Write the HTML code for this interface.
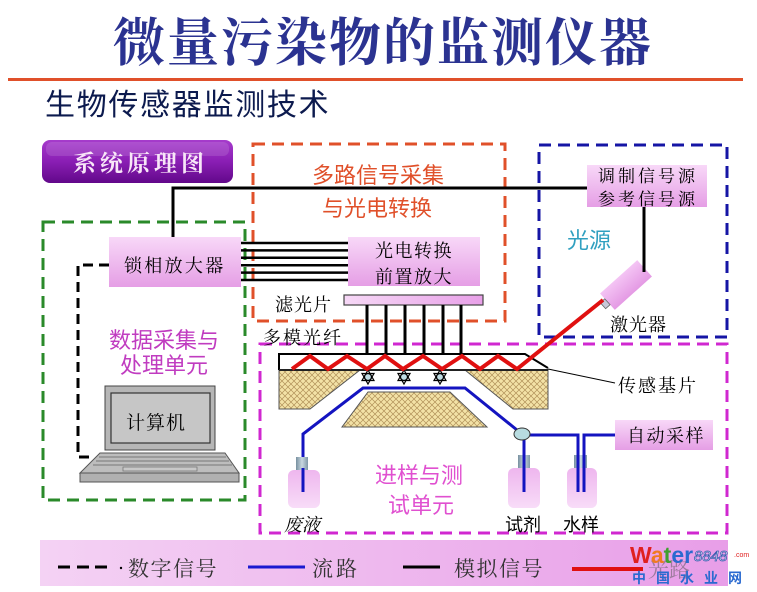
<!DOCTYPE html>
<html><head><meta charset="utf-8"><style>
html,body{margin:0;padding:0;background:#fff;}
svg{display:block;}
.se{font-family:"Liberation Serif","Noto Serif CJK SC",serif;}
.sa{font-family:"Liberation Sans","Noto Sans CJK SC",sans-serif;}
</style></head><body>
<svg width="757" height="592" viewBox="0 0 757 592" xmlns="http://www.w3.org/2000/svg">
<defs>
<linearGradient id="pk" x1="0" y1="0" x2="0" y2="1"><stop offset="0" stop-color="#f8d8f8"/><stop offset="1" stop-color="#e59ee5"/></linearGradient>
<linearGradient id="pkh" x1="0" y1="0" x2="1" y2="0"><stop offset="0" stop-color="#f6d8f6"/><stop offset="1" stop-color="#e8a0e8"/></linearGradient>
<linearGradient id="btn" x1="0" y1="0" x2="0" y2="1"><stop offset="0" stop-color="#a63ccc"/><stop offset="0.5" stop-color="#8a1eb4"/><stop offset="1" stop-color="#62088a"/></linearGradient>
<linearGradient id="bot" x1="0" y1="0" x2="0" y2="1"><stop offset="0" stop-color="#eeb6ee"/><stop offset="1" stop-color="#f8dcf8"/></linearGradient>
<linearGradient id="cap" x1="0" y1="0" x2="1" y2="0"><stop offset="0" stop-color="#7890a0"/><stop offset="0.5" stop-color="#c8d8e0"/><stop offset="1" stop-color="#8098a8"/></linearGradient>
<linearGradient id="leg" x1="0" y1="0" x2="1" y2="0"><stop offset="0" stop-color="#f4d2f4"/><stop offset="1" stop-color="#e89ee8"/></linearGradient>
<linearGradient id="las" x1="0" y1="0" x2="0" y2="1"><stop offset="0" stop-color="#f4c4f4"/><stop offset="1" stop-color="#e49ae4"/></linearGradient>
<pattern id="hat" width="6" height="6" patternUnits="userSpaceOnUse">
<rect width="6" height="6" fill="#f3e2a6"/>
<path d="M0,3 L3,0 M3,6 L6,3 M0,3 L3,6 M3,0 L6,3" stroke="#b09058" stroke-width="0.7" fill="none"/>
</pattern>
</defs>

<!-- Title -->
<text x="113" y="61" class="se" font-size="52" font-weight="bold" fill="#2b3391" textLength="538" lengthAdjust="spacing">微量污染物的监测仪器</text>
<rect x="8" y="78" width="735" height="3" fill="#e0502a"/>
<text x="45" y="115" class="sa" font-size="30" fill="#0c1a4e" letter-spacing="1.7">生物传感器监测技术</text>

<!-- button -->
<rect x="42" y="140" width="191" height="43" rx="8" fill="url(#btn)"/>
<rect x="46" y="142" width="183" height="14" rx="6" fill="#ffffff" opacity="0.12"/>
<text x="73" y="171" class="se" font-size="23" font-weight="bold" fill="#f8e6f8" letter-spacing="4">系统原理图</text>

<!-- dashed boxes -->
<rect x="43" y="222" width="202" height="278" fill="none" stroke="#2a8a2a" stroke-width="3" stroke-dasharray="12 7"/>
<rect x="253" y="144" width="252" height="177" fill="none" stroke="#e0502a" stroke-width="3" stroke-dasharray="12 7"/>
<rect x="539" y="145" width="188" height="192" fill="none" stroke="#1515a5" stroke-width="3" stroke-dasharray="12 7"/>
<rect x="260" y="344" width="467" height="189" fill="none" stroke="#d028d0" stroke-width="3" stroke-dasharray="12 7"/>

<!-- black signal lines -->
<path d="M173,238 L173,188 L587,188" fill="none" stroke="#000" stroke-width="3"/>
<g stroke="#000" stroke-width="2.5">
<line x1="241" y1="243" x2="348" y2="243"/>
<line x1="241" y1="250.4" x2="348" y2="250.4"/>
<line x1="241" y1="257.8" x2="348" y2="257.8"/>
<line x1="241" y1="265.2" x2="348" y2="265.2"/>
<line x1="241" y1="272.6" x2="348" y2="272.6"/>
<line x1="241" y1="280" x2="348" y2="280"/>
</g>
<path d="M109,265 L78,265 L78,457 L90,457" fill="none" stroke="#000" stroke-width="3" stroke-dasharray="10 6"/>

<!-- orange box title -->
<text x="312" y="183" class="sa" font-size="22" fill="#e0502a">多路信号采集</text>
<text x="322" y="216" class="sa" font-size="22" fill="#e0502a">与光电转换</text>

<!-- lock-in -->
<rect x="109" y="237" width="132" height="50" fill="url(#pk)"/>
<text x="124" y="272" class="se" font-size="18" fill="#000" letter-spacing="2.3">锁相放大器</text>

<!-- photoelectric -->
<rect x="348" y="237" width="132" height="49" fill="url(#pk)"/>
<text x="375" y="257" class="se" font-size="18" fill="#000" letter-spacing="1.5">光电转换</text>
<text x="375" y="283" class="se" font-size="18" fill="#000" letter-spacing="1.5">前置放大</text>

<!-- filter -->
<rect x="344" y="295" width="139" height="10" fill="url(#pkh)" stroke="#444" stroke-width="1.2"/>
<text x="275" y="311" class="se" font-size="18" fill="#000" letter-spacing="1">滤光片</text>
<text x="263" y="344" class="se" font-size="18" fill="#000" letter-spacing="2">多模光纤</text>
<g stroke="#000" stroke-width="3">
<line x1="367" y1="305" x2="367" y2="355"/>
<line x1="386" y1="305" x2="386" y2="355"/>
<line x1="405" y1="305" x2="405" y2="355"/>
<line x1="424" y1="305" x2="424" y2="355"/>
<line x1="443" y1="305" x2="443" y2="355"/>
<line x1="461" y1="305" x2="461" y2="355"/>
</g>

<!-- light source box -->
<rect x="587" y="165" width="120" height="42" fill="url(#pk)"/>
<text x="598" y="182" class="se" font-size="17" fill="#000" letter-spacing="3">调制信号源</text>
<text x="598" y="205" class="se" font-size="17" fill="#000" letter-spacing="3">参考信号源</text>
<text x="567" y="248" class="sa" font-size="22" fill="#30a0c0">光源</text>
<text x="610" y="331" class="se" font-size="18" fill="#000" letter-spacing="1">激光器</text>

<!-- laser -->
<g transform="translate(626,285) rotate(-42)">
<rect x="-25" y="-11" width="50" height="22" fill="url(#las)"/>
<rect x="-31" y="-4" width="6" height="8" fill="#c8c8d8" stroke="#666" stroke-width="0.8"/>
</g>
<line x1="644" y1="207" x2="644" y2="272" stroke="#000" stroke-width="3"/>

<!-- sensor substrate -->
<polygon points="279,370 360,370 310,409 279,409" fill="url(#hat)" stroke="#555" stroke-width="1"/>
<polygon points="465,370 548,370 548,409 513,409" fill="url(#hat)" stroke="#555" stroke-width="1"/>
<polygon points="368,392 450,392 487,427 342,427" fill="url(#hat)" stroke="#555" stroke-width="1"/>
<path d="M279,370 L279,354 L525,354 L548,368" fill="none" stroke="#000" stroke-width="2"/>
<line x1="279" y1="370" x2="548" y2="370" stroke="#222" stroke-width="2"/>
<line x1="548" y1="369" x2="615" y2="383" stroke="#000" stroke-width="1"/>
<text x="618" y="392" class="se" font-size="18" fill="#000" letter-spacing="2">传感基片</text>

<!-- detectors -->
<g stroke="#000" stroke-width="1.2" fill="none">
<g transform="translate(368,377)"><polygon points="0,-7 6,3.5 -6,3.5"/><polygon points="0,7 6,-3.5 -6,-3.5"/><circle r="3.5" fill="#c0dde4"/></g>
<g transform="translate(404,377)"><polygon points="0,-7 6,3.5 -6,3.5"/><polygon points="0,7 6,-3.5 -6,-3.5"/><circle r="3.5" fill="#c0dde4"/></g>
<g transform="translate(440,377)"><polygon points="0,-7 6,3.5 -6,3.5"/><polygon points="0,7 6,-3.5 -6,-3.5"/><circle r="3.5" fill="#c0dde4"/></g>
</g>

<!-- red zigzag -->
<polyline points="292,369 310,356 328,369 347,356 367,369 385,356 403,369 423,356 442,369 462,356 480,369 498,356 517,369 603,300" fill="none" stroke="#e01010" stroke-width="4" stroke-linejoin="miter"/>

<!-- flow lines -->
<g fill="none" stroke="#1414c0" stroke-width="3">
<polyline points="303,492 303,434 363,388 465,388 517,430"/>
<line x1="524" y1="440" x2="524" y2="492"/>
<polyline points="530,435 578,435 578,492"/>
<polyline points="615,435 584,435 584,492"/>
</g>
<ellipse cx="522" cy="434" rx="8" ry="6" fill="#b8dce0" stroke="#333" stroke-width="1"/>

<!-- bottles -->
<rect x="296" y="457" width="12" height="13" fill="url(#cap)"/>
<rect x="288" y="470" width="32" height="38" rx="6" fill="url(#bot)"/>
<rect x="518" y="455" width="12" height="13" fill="url(#cap)"/>
<rect x="508" y="468" width="32" height="40" rx="6" fill="url(#bot)"/>
<rect x="574" y="455" width="13" height="13" fill="url(#cap)"/>
<rect x="567" y="468" width="30" height="40" rx="6" fill="url(#bot)"/>
<g stroke="#1414c0" stroke-width="3">
<line x1="303" y1="468" x2="303" y2="492"/>
<line x1="524" y1="455" x2="524" y2="492"/>
<line x1="578" y1="455" x2="578" y2="492"/>
<line x1="584" y1="455" x2="584" y2="492"/>
</g>
<text x="284" y="531" class="se" font-size="18" font-style="italic" fill="#000">废液</text>
<text x="505" y="531" class="sa" font-size="18" fill="#000">试剂</text>
<text x="563" y="531" class="sa" font-size="18" fill="#000">水样</text>

<rect x="615" y="420" width="98" height="30" fill="url(#pk)"/>
<text x="627" y="442" class="se" font-size="18" fill="#000" letter-spacing="1.5">自动采样</text>

<text x="375" y="483" class="sa" font-size="22" fill="#e050d0">进样与测</text>
<text x="388" y="513" class="sa" font-size="22" fill="#e050d0">试单元</text>

<!-- data unit -->
<text x="109" y="348" class="sa" font-size="22" fill="#c03cc0">数据采集与</text>
<text x="120" y="373" class="sa" font-size="22" fill="#c03cc0">处理单元</text>

<!-- laptop -->
<rect x="105" y="386" width="110" height="64" fill="#b6b6b6" stroke="#444" stroke-width="1"/>
<rect x="111" y="393" width="99" height="50" fill="#c6c6c6" stroke="#333" stroke-width="1.2"/>
<text x="126" y="429" class="se" font-size="19" fill="#000" letter-spacing="1">计算机</text>
<polygon points="100,453 225,453 239,473 80,473" fill="#bdbdbd" stroke="#555" stroke-width="1"/>
<g stroke="#777" stroke-width="1">
<line x1="99" y1="457" x2="226" y2="457"/>
<line x1="96" y1="461" x2="229" y2="461"/>
<line x1="93" y1="465" x2="232" y2="465"/>
</g>
<rect x="123" y="467" width="74" height="4" fill="#c8c8c8" stroke="#777" stroke-width="0.8"/>
<rect x="80" y="473" width="159" height="9" fill="#b0b0b0" stroke="#555" stroke-width="1"/>

<!-- legend -->
<rect x="40" y="540" width="688" height="46" fill="url(#leg)"/>
<g stroke="#000" stroke-width="3">
<line x1="58" y1="567" x2="70" y2="567"/>
<line x1="77" y1="567" x2="89" y2="567"/>
<line x1="95" y1="567" x2="107" y2="567"/>
</g>
<circle cx="121" cy="568" r="1.2" fill="#000"/>
<text x="128" y="576" class="se" font-size="21" fill="#333" letter-spacing="1.5">数字信号</text>
<line x1="248" y1="567" x2="305" y2="567" stroke="#1a1ad0" stroke-width="3"/>
<text x="312" y="576" class="se" font-size="21" fill="#333" letter-spacing="3">流路</text>
<line x1="403" y1="567" x2="440" y2="567" stroke="#000" stroke-width="3"/>
<text x="454" y="576" class="se" font-size="21" fill="#333" letter-spacing="1.5">模拟信号</text>
<line x1="572" y1="569" x2="643" y2="569" stroke="#e01010" stroke-width="4"/>
<text x="648" y="577" class="se" font-size="21" fill="#555" opacity="0.5">光路</text>

<!-- logo -->
<text x="630" y="563" font-family="Liberation Sans,sans-serif" font-size="23" font-weight="bold"><tspan fill="#e02020">W</tspan><tspan fill="#f07a20">a</tspan><tspan fill="#40a030">t</tspan><tspan fill="#2a6ad0">e</tspan><tspan fill="#2a6ad0">r</tspan></text>
<text x="694" y="561" font-family="Liberation Sans,sans-serif" font-size="15" font-style="italic" fill="#fff" stroke="#3a5ab0" stroke-width="0.8">8848</text>
<text x="734" y="557" font-family="Liberation Sans,sans-serif" font-size="7" fill="#e02020">.com</text>
<text x="632" y="583" class="sa" font-size="14" font-weight="bold" fill="#2a6ad0" letter-spacing="10">中国水业网</text>
</svg>
</body></html>
